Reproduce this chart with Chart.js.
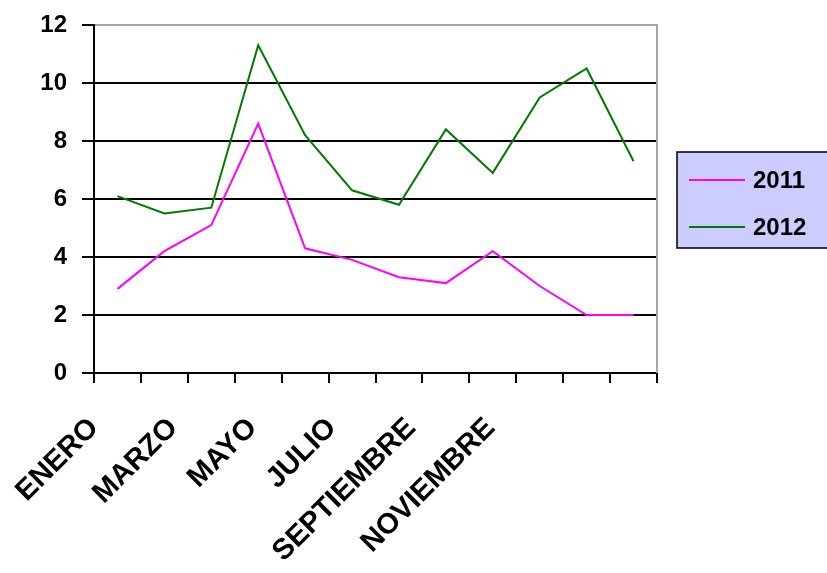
<!DOCTYPE html>
<html>
<head>
<meta charset="utf-8">
<title>2011 vs 2012</title>
<script src="https://cdn.jsdelivr.net/npm/chart.js@4.4.1/dist/chart.umd.min.js"></script>
<style>
  html, body { margin: 0; padding: 0; background: #fff; }
  canvas { display: block; }
</style>
</head>
<body>
<canvas id="lineChart" width="827" height="573"></canvas>
<script>
// Data
const months = ['ENERO', 'FEBRERO', 'MARZO', 'ABRIL', 'MAYO', 'JUNIO', 'JULIO',
  'AGOSTO', 'SEPTIEMBRE', 'OCTUBRE', 'NOVIEMBRE', 'DICIEMBRE'];
const labelMonths = [0, 2, 4, 6, 8, 10]; // only every other month is labelled
const yTicks = [0, 2, 4, 6, 8, 10, 12];
const series2011 = [2.9, 4.2, 5.1, 8.6, 4.3, 3.9, 3.3, 3.1, 4.2, 3.0, 2.0, 2.0];
const series2012 = [6.1, 5.5, 5.7, 11.3, 8.2, 6.3, 5.8, 8.4, 6.9, 9.5, 10.5, 7.3];

const FONT = 'Liberation Sans, Arial, sans-serif';

// --- Legend box on the right (lavender box like the original) ---
const boxLegend = {
  id: 'boxLegend',
  afterDraw(chart) {
    const { ctx, chartArea } = chart;
    const x = chartArea.right + 20;
    const y = 152;
    ctx.save();
    ctx.fillStyle = '#ccccff';
    ctx.strokeStyle = '#000';
    ctx.lineWidth = 1.5;
    ctx.fillRect(x, y, 170, 96);
    ctx.strokeRect(x, y, 170, 96);
    ctx.font = 'bold 24px ' + FONT;
    ctx.textBaseline = 'middle';
    chart.data.datasets.forEach((ds, i) => {
      const ly = y + 28 + i * 47;
      ctx.strokeStyle = ds.borderColor;
      ctx.lineWidth = 2;
      ctx.beginPath();
      ctx.moveTo(x + 12, ly);
      ctx.lineTo(x + 68, ly);
      ctx.stroke();
      ctx.fillStyle = '#000';
      ctx.fillText(ds.label, x + 76, ly + 1);
    });
    ctx.restore();
  },
};

// grey plot-area frame on top and right
const plotFrame = {
  id: 'plotFrame',
  afterDatasetsDraw(chart) {
    const { ctx, chartArea: a } = chart;
    ctx.save();
    ctx.strokeStyle = '#a6a6a6';
    ctx.lineWidth = 2;
    ctx.beginPath();
    ctx.moveTo(a.left + 1, a.top);
    ctx.lineTo(a.right, a.top);
    ctx.lineTo(a.right, a.bottom);
    ctx.stroke();
    ctx.restore();
  },
};

const ctx = document.getElementById('lineChart').getContext('2d');
new Chart(ctx, {
  type: 'line',
  data: {
    labels: months,
    datasets: [
      {
        label: '2011',
        data: series2011,
        borderColor: '#ff00ff',
        backgroundColor: '#ff00ff',
        borderWidth: 2,
        pointRadius: 0,
        tension: 0,
        fill: false,
      },
      {
        label: '2012',
        data: series2012,
        borderColor: '#007a00',
        backgroundColor: '#007a00',
        borderWidth: 2,
        pointRadius: 0,
        tension: 0,
        fill: false,
      },
    ],
  },
  options: {
    responsive: false,
    animation: false,
    layout: { padding: { top: 25, right: 170, left: 0, bottom: 0 } },
    plugins: {
      legend: { display: false },
      tooltip: { enabled: false },
    },
    scales: {
      x: {
        type: 'category',
        offset: true,
        weight: 0,
        grid: {
          offset: true,
          drawOnChartArea: false,
          drawTicks: true,
          tickLength: 10,
          color: '#000',
          lineWidth: 2,
        },
        border: { color: '#000', width: 2 },
        ticks: { display: false },
      },
      // month names sit on their own axis, spaced like the original
      xl: {
        type: 'linear',
        position: 'bottom',
        weight: 1,
        min: 0,
        max: 14.2,
        afterBuildTicks: (scale) => {
          scale.ticks = labelMonths.map((v) => ({ value: v }));
        },
        afterFit: (scale) => {
          scale.height = 190;
          scale.paddingLeft = 0;
          scale.paddingRight = 0;
        },
        grid: { display: false, drawTicks: false },
        border: { display: false },
        ticks: {
          autoSkip: false,
          maxRotation: 45,
          minRotation: 45,
          padding: 28,
          color: '#000',
          font: { family: FONT, size: 29, weight: 'bold' },
          callback: (v) => months[v],
        },
      },
      y: {
        min: 0,
        max: 12,
        afterBuildTicks: (scale) => {
          scale.ticks = yTicks.map((v) => ({ value: v }));
        },
        afterFit: (scale) => {
          scale.width = 94;
          scale.paddingTop = 0;
          scale.paddingBottom = 0;
        },
        grid: {
          color: '#000',
          lineWidth: 2,
          drawTicks: true,
          tickLength: 12,
        },
        border: { color: '#000', width: 2 },
        ticks: {
          padding: 15,
          color: '#000',
          font: { family: FONT, size: 24, weight: 'bold' },
        },
      },
    },
  },
  plugins: [plotFrame, boxLegend],
});
</script>
</body>
</html>
